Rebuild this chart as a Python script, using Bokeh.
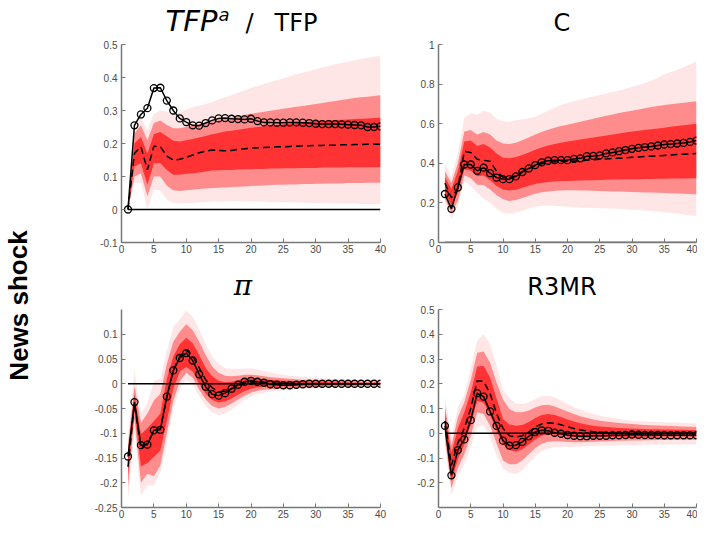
from bokeh.plotting import figure
from bokeh.models import (ColumnDataSource, Range1d, SingleIntervalTicker,
                          CustomJSTickFormatter)
from bokeh.core.properties import value
from bokeh.layouts import row, column
from bokeh.embed import file_html
from bokeh.resources import INLINE

# ---------------- data ----------------
horizon = list(range(1, 41))
zero = [0.0] * 40
row_label = "News shock"

tfp_solid = [0, 0.255, 0.288, 0.307, 0.368, 0.369, 0.330, 0.300, 0.276, 0.265, 0.255, 0.254, 0.262, 0.270, 0.276, 0.277, 0.275, 0.274, 0.273, 0.275, 0.268, 0.264, 0.264, 0.263, 0.263, 0.264, 0.264, 0.263, 0.262, 0.260, 0.259, 0.259, 0.259, 0.258, 0.257, 0.256, 0.255, 0.250, 0.250, 0.252]
tfp_median = [0, 0.170, 0.190, 0.120, 0.192, 0.190, 0.162, 0.150, 0.152, 0.158, 0.165, 0.172, 0.177, 0.180, 0.179, 0.178, 0.179, 0.182, 0.184, 0.186, 0.187, 0.188, 0.189, 0.190, 0.190, 0.191, 0.192, 0.193, 0.193, 0.194, 0.194, 0.195, 0.195, 0.196, 0.196, 0.197, 0.197, 0.198, 0.198, 0.198]
tfp_in_lo = [0, 0.130, 0.140, 0.075, 0.140, 0.140, 0.120, 0.105, 0.105, 0.108, 0.110, 0.112, 0.115, 0.118, 0.119, 0.120, 0.120, 0.121, 0.122, 0.122, 0.123, 0.123, 0.124, 0.124, 0.125, 0.125, 0.125, 0.126, 0.126, 0.126, 0.127, 0.127, 0.127, 0.127, 0.128, 0.128, 0.128, 0.128, 0.128, 0.128]
tfp_in_hi = [0, 0.200, 0.220, 0.170, 0.228, 0.235, 0.222, 0.208, 0.206, 0.210, 0.214, 0.218, 0.223, 0.228, 0.232, 0.236, 0.239, 0.242, 0.245, 0.248, 0.250, 0.252, 0.254, 0.256, 0.258, 0.260, 0.262, 0.264, 0.266, 0.268, 0.269, 0.270, 0.271, 0.272, 0.273, 0.274, 0.275, 0.276, 0.277, 0.278]
tfp_mid_lo = [0, 0.100, 0.110, 0.040, 0.100, 0.100, 0.072, 0.058, 0.056, 0.058, 0.060, 0.062, 0.064, 0.065, 0.066, 0.067, 0.068, 0.069, 0.070, 0.071, 0.072, 0.073, 0.074, 0.075, 0.075, 0.076, 0.076, 0.077, 0.077, 0.078, 0.078, 0.079, 0.079, 0.079, 0.080, 0.080, 0.080, 0.081, 0.081, 0.081]
tfp_mid_hi = [0, 0.230, 0.255, 0.210, 0.262, 0.270, 0.256, 0.246, 0.246, 0.250, 0.255, 0.259, 0.263, 0.267, 0.271, 0.275, 0.279, 0.283, 0.287, 0.290, 0.293, 0.296, 0.299, 0.302, 0.305, 0.308, 0.311, 0.314, 0.317, 0.320, 0.323, 0.326, 0.329, 0.332, 0.335, 0.338, 0.340, 0.342, 0.344, 0.346]
tfp_out_lo = [0, 0.080, 0.080, 0.002, 0.060, 0.058, 0.030, 0.020, 0.018, 0.020, 0.020, 0.022, 0.023, 0.024, 0.025, 0.025, 0.026, 0.026, 0.025, 0.025, 0.024, 0.024, 0.023, 0.023, 0.022, 0.022, 0.021, 0.021, 0.020, 0.020, 0.020, 0.019, 0.019, 0.018, 0.018, 0.018, 0.017, 0.017, 0.017, 0.016]
tfp_out_hi = [0, 0.240, 0.280, 0.240, 0.290, 0.300, 0.296, 0.292, 0.295, 0.303, 0.310, 0.315, 0.320, 0.326, 0.333, 0.340, 0.347, 0.354, 0.361, 0.368, 0.374, 0.380, 0.386, 0.392, 0.398, 0.404, 0.410, 0.415, 0.420, 0.425, 0.430, 0.435, 0.440, 0.444, 0.448, 0.452, 0.456, 0.460, 0.463, 0.466]

c_solid = [0.245, 0.170, 0.278, 0.394, 0.394, 0.362, 0.378, 0.350, 0.328, 0.320, 0.320, 0.334, 0.356, 0.374, 0.391, 0.405, 0.413, 0.416, 0.416, 0.416, 0.422, 0.425, 0.436, 0.437, 0.440, 0.450, 0.455, 0.461, 0.467, 0.473, 0.478, 0.482, 0.485, 0.490, 0.495, 0.497, 0.500, 0.503, 0.508, 0.515]
c_median = [0.300, 0.225, 0.275, 0.460, 0.455, 0.420, 0.415, 0.410, 0.360, 0.330, 0.325, 0.338, 0.358, 0.374, 0.388, 0.398, 0.405, 0.408, 0.409, 0.410, 0.412, 0.414, 0.416, 0.418, 0.420, 0.422, 0.424, 0.426, 0.428, 0.430, 0.432, 0.434, 0.436, 0.438, 0.440, 0.442, 0.444, 0.446, 0.448, 0.450]
c_in_lo = [0.250, 0.190, 0.250, 0.370, 0.362, 0.335, 0.338, 0.315, 0.285, 0.268, 0.262, 0.266, 0.276, 0.286, 0.295, 0.302, 0.306, 0.308, 0.310, 0.311, 0.312, 0.313, 0.314, 0.315, 0.316, 0.317, 0.318, 0.318, 0.319, 0.320, 0.320, 0.321, 0.321, 0.322, 0.322, 0.323, 0.323, 0.323, 0.324, 0.324]
c_in_hi = [0.330, 0.270, 0.360, 0.510, 0.515, 0.488, 0.498, 0.480, 0.450, 0.428, 0.425, 0.432, 0.442, 0.455, 0.468, 0.480, 0.490, 0.498, 0.504, 0.510, 0.515, 0.520, 0.525, 0.530, 0.535, 0.540, 0.545, 0.550, 0.555, 0.560, 0.564, 0.568, 0.572, 0.576, 0.580, 0.584, 0.588, 0.592, 0.596, 0.600]
c_mid_lo = [0.220, 0.150, 0.210, 0.340, 0.325, 0.292, 0.290, 0.268, 0.240, 0.218, 0.210, 0.215, 0.225, 0.236, 0.246, 0.254, 0.258, 0.261, 0.263, 0.264, 0.264, 0.263, 0.262, 0.261, 0.260, 0.259, 0.258, 0.257, 0.256, 0.255, 0.254, 0.253, 0.252, 0.251, 0.250, 0.249, 0.248, 0.246, 0.245, 0.243]
c_mid_hi = [0.360, 0.300, 0.400, 0.560, 0.568, 0.545, 0.558, 0.545, 0.515, 0.500, 0.498, 0.504, 0.516, 0.530, 0.545, 0.558, 0.570, 0.580, 0.588, 0.595, 0.602, 0.610, 0.618, 0.625, 0.632, 0.640, 0.647, 0.654, 0.660, 0.666, 0.672, 0.678, 0.684, 0.690, 0.694, 0.698, 0.702, 0.706, 0.710, 0.714]
c_out_lo = [0.200, 0.120, 0.180, 0.310, 0.285, 0.250, 0.222, 0.200, 0.170, 0.150, 0.145, 0.150, 0.160, 0.172, 0.182, 0.186, 0.186, 0.185, 0.183, 0.180, 0.178, 0.176, 0.175, 0.174, 0.173, 0.172, 0.171, 0.170, 0.168, 0.166, 0.164, 0.162, 0.159, 0.156, 0.153, 0.150, 0.146, 0.142, 0.138, 0.133]
c_out_hi = [0.400, 0.330, 0.450, 0.630, 0.652, 0.645, 0.665, 0.655, 0.625, 0.612, 0.610, 0.617, 0.622, 0.627, 0.635, 0.650, 0.665, 0.680, 0.695, 0.705, 0.713, 0.722, 0.730, 0.738, 0.745, 0.752, 0.760, 0.768, 0.776, 0.785, 0.795, 0.805, 0.818, 0.832, 0.848, 0.860, 0.872, 0.885, 0.900, 0.915]

pi_solid = [-0.147, -0.037, -0.124, -0.123, -0.094, -0.093, -0.026, 0.027, 0.052, 0.062, 0.047, 0.019, -0.006, -0.021, -0.024, -0.019, -0.010, -0.002, 0.004, 0.006, 0.004, 0.002, -0.001, -0.002, -0.003, -0.003, -0.002, -0.001, 0.000, 0.000, 0.000, 0.000, 0.000, 0.000, 0.000, 0.000, 0.000, 0.000, 0.000, 0.000]
pi_median = [-0.168, -0.040, -0.130, -0.120, -0.096, -0.090, -0.028, 0.028, 0.055, 0.068, 0.056, 0.032, 0.008, -0.008, -0.016, -0.015, -0.010, -0.004, 0.001, 0.003, 0.004, 0.003, 0.002, 0.001, 0.001, 0.000, 0.000, 0.000, 0.000, 0.000, 0.000, 0.000, 0.000, 0.000, 0.000, 0.000, 0.000, 0.000, 0.000, 0.000]
pi_in_lo = [-0.185, -0.055, -0.167, -0.160, -0.148, -0.135, -0.075, -0.010, 0.025, 0.034, 0.025, 0.000, -0.020, -0.033, -0.038, -0.036, -0.030, -0.022, -0.015, -0.010, -0.007, -0.006, -0.006, -0.006, -0.005, -0.005, -0.005, -0.004, -0.004, -0.004, -0.004, -0.003, -0.003, -0.003, -0.003, -0.003, -0.002, -0.002, -0.002, -0.002]
pi_in_hi = [-0.140, -0.020, -0.102, -0.090, -0.076, -0.060, 0.010, 0.055, 0.080, 0.093, 0.082, 0.058, 0.032, 0.015, 0.006, 0.003, 0.004, 0.007, 0.010, 0.011, 0.010, 0.009, 0.008, 0.007, 0.006, 0.006, 0.005, 0.005, 0.004, 0.004, 0.004, 0.003, 0.003, 0.003, 0.003, 0.002, 0.002, 0.002, 0.002, 0.002]
pi_mid_lo = [-0.210, -0.070, -0.200, -0.182, -0.187, -0.165, -0.100, -0.035, 0.005, 0.022, 0.012, -0.012, -0.032, -0.045, -0.050, -0.047, -0.040, -0.032, -0.024, -0.018, -0.014, -0.012, -0.011, -0.010, -0.009, -0.009, -0.008, -0.008, -0.007, -0.007, -0.006, -0.006, -0.006, -0.005, -0.005, -0.005, -0.004, -0.004, -0.004, -0.004]
pi_mid_hi = [-0.125, -0.005, -0.079, -0.060, -0.034, -0.020, 0.040, 0.085, 0.105, 0.120, 0.108, 0.085, 0.058, 0.035, 0.022, 0.016, 0.015, 0.016, 0.018, 0.018, 0.017, 0.015, 0.013, 0.012, 0.011, 0.010, 0.009, 0.008, 0.008, 0.007, 0.007, 0.006, 0.006, 0.005, 0.005, 0.005, 0.004, 0.004, 0.004, 0.004]
pi_out_lo = [-0.235, -0.095, -0.226, -0.205, -0.206, -0.180, -0.120, -0.050, -0.010, 0.008, -0.002, -0.025, -0.045, -0.058, -0.063, -0.060, -0.052, -0.042, -0.033, -0.026, -0.021, -0.018, -0.016, -0.014, -0.013, -0.012, -0.011, -0.010, -0.010, -0.009, -0.009, -0.008, -0.008, -0.007, -0.007, -0.007, -0.006, -0.006, -0.006, -0.006]
pi_out_hi = [-0.110, 0.028, -0.060, -0.040, 0.005, 0.010, 0.065, 0.115, 0.130, 0.148, 0.135, 0.110, 0.080, 0.055, 0.040, 0.032, 0.030, 0.030, 0.031, 0.031, 0.029, 0.026, 0.023, 0.020, 0.018, 0.016, 0.015, 0.014, 0.013, 0.012, 0.011, 0.010, 0.010, 0.009, 0.009, 0.008, 0.008, 0.007, 0.007, 0.007]

r_solid = [0.030, -0.170, -0.068, -0.025, 0.053, 0.162, 0.148, 0.088, 0.030, -0.030, -0.050, -0.048, -0.035, -0.012, 0.005, 0.012, 0.010, 0.002, -0.002, -0.007, -0.010, -0.012, -0.012, -0.010, -0.010, -0.010, -0.008, -0.008, -0.007, -0.005, -0.006, -0.007, -0.007, -0.007, -0.008, -0.008, -0.008, -0.008, -0.008, -0.008]
r_median = [0.050, -0.130, -0.040, 0.020, 0.100, 0.212, 0.210, 0.160, 0.080, 0.020, -0.010, -0.015, -0.010, 0.005, 0.025, 0.038, 0.042, 0.040, 0.034, 0.026, 0.019, 0.013, 0.009, 0.006, 0.004, 0.003, 0.002, 0.001, 0.000, 0.000, 0.000, -0.001, -0.001, -0.001, -0.001, -0.002, -0.002, -0.002, -0.002, -0.002]
r_in_lo = [0.000, -0.195, -0.105, -0.045, 0.035, 0.130, 0.123, 0.075, 0.010, -0.045, -0.068, -0.075, -0.065, -0.045, -0.025, -0.010, -0.004, -0.005, -0.009, -0.013, -0.016, -0.017, -0.017, -0.017, -0.016, -0.016, -0.015, -0.015, -0.015, -0.014, -0.014, -0.014, -0.014, -0.013, -0.013, -0.013, -0.013, -0.013, -0.013, -0.013]
r_in_hi = [0.080, -0.080, 0.020, 0.085, 0.165, 0.270, 0.272, 0.225, 0.140, 0.058, 0.035, 0.030, 0.033, 0.045, 0.062, 0.074, 0.078, 0.074, 0.066, 0.056, 0.047, 0.040, 0.034, 0.030, 0.027, 0.025, 0.023, 0.021, 0.020, 0.019, 0.018, 0.017, 0.016, 0.016, 0.015, 0.015, 0.014, 0.014, 0.013, 0.013]
r_mid_lo = [-0.020, -0.222, -0.140, -0.085, -0.010, 0.085, 0.078, 0.030, -0.040, -0.110, -0.125, -0.125, -0.110, -0.085, -0.060, -0.042, -0.034, -0.032, -0.033, -0.035, -0.036, -0.036, -0.035, -0.034, -0.033, -0.032, -0.031, -0.030, -0.030, -0.029, -0.029, -0.028, -0.028, -0.027, -0.027, -0.027, -0.026, -0.026, -0.026, -0.026]
r_mid_hi = [0.110, -0.050, 0.065, 0.125, 0.215, 0.325, 0.330, 0.285, 0.205, 0.136, 0.098, 0.085, 0.085, 0.092, 0.104, 0.113, 0.115, 0.108, 0.098, 0.088, 0.078, 0.069, 0.062, 0.056, 0.051, 0.047, 0.044, 0.041, 0.039, 0.037, 0.035, 0.033, 0.032, 0.031, 0.030, 0.029, 0.028, 0.027, 0.026, 0.026]
r_out_lo = [-0.040, -0.252, -0.175, -0.125, -0.055, 0.025, 0.032, -0.020, -0.090, -0.142, -0.160, -0.165, -0.150, -0.120, -0.092, -0.072, -0.062, -0.057, -0.056, -0.056, -0.055, -0.054, -0.053, -0.052, -0.051, -0.050, -0.049, -0.048, -0.048, -0.047, -0.047, -0.046, -0.046, -0.046, -0.045, -0.045, -0.045, -0.045, -0.045, -0.045]
r_out_hi = [0.150, -0.020, 0.105, 0.155, 0.265, 0.375, 0.400, 0.360, 0.275, 0.175, 0.140, 0.120, 0.118, 0.125, 0.138, 0.150, 0.152, 0.145, 0.132, 0.118, 0.105, 0.095, 0.086, 0.078, 0.071, 0.066, 0.062, 0.058, 0.055, 0.052, 0.050, 0.048, 0.046, 0.045, 0.044, 0.043, 0.042, 0.041, 0.040, 0.039]

# ---------------- style ----------------
OUTER = "#FFE6E6"
MIDDLE = "#FF8C8C"
INNER = "#FF3333"
AXIS = "#777777"
TICKLBL = "#4a4a4a"
FMT = CustomJSTickFormatter(code="return String(Number(tick.toFixed(3)));")


def make_panel(width, height, bl, br, bt, bb, yr, ystep, s, m, ilo, ihi, mlo, mhi, olo, ohi):
    p = figure(width=width, height=height, x_range=Range1d(0, 40), y_range=Range1d(*yr),
               output_backend="svg", toolbar_location=None, title=None,
               min_border_left=bl, min_border_right=br, min_border_top=bt, min_border_bottom=bb)
    p.grid.visible = False
    p.outline_line_color = None
    p.xaxis.ticker = SingleIntervalTicker(interval=5, num_minor_ticks=0)
    p.yaxis.ticker = SingleIntervalTicker(interval=ystep, num_minor_ticks=0)
    for ax in (p.xaxis[0], p.yaxis[0]):
        ax.formatter = FMT
        ax.axis_line_color = AXIS
        ax.axis_line_width = 1.5
        ax.major_tick_line_color = AXIS
        ax.major_tick_in = 4
        ax.major_tick_out = 0
        ax.minor_tick_line_color = None
        ax.major_label_text_font = "Liberation Sans"
        ax.major_label_text_font_size = "10px"
        ax.major_label_text_color = TICKLBL
    p.xaxis.major_label_standoff = 2
    p.yaxis.major_label_standoff = 4

    src = ColumnDataSource(dict(h=horizon, z=zero, s=s, m=m, ilo=ilo, ihi=ihi,
                                mlo=mlo, mhi=mhi, olo=olo, ohi=ohi))
    p.varea(x="h", y1="olo", y2="ohi", source=src, fill_color=OUTER)
    p.varea(x="h", y1="mlo", y2="mhi", source=src, fill_color=MIDDLE)
    p.varea(x="h", y1="ilo", y2="ihi", source=src, fill_color=INNER)
    p.line(x="h", y="z", source=src, line_color="black", line_width=1.6)
    p.line(x="h", y="m", source=src, line_color="black", line_width=1.5, line_dash="7 4")
    p.line(x="h", y="s", source=src, line_color="black", line_width=1.5)
    p.scatter(x="h", y="s", source=src, marker="circle", size=7,
              fill_color=None, line_color="black", line_width=1.3)
    return p


def blank(width, height):
    f = figure(width=width, height=height, x_range=Range1d(0, width), y_range=Range1d(0, height),
               output_backend="svg", toolbar_location=None, title=None,
               x_axis_location=None, y_axis_location=None,
               min_border=0, min_border_left=0, min_border_right=0,
               min_border_top=0, min_border_bottom=0)
    f.grid.visible = False
    f.outline_line_color = None
    return f


def txt(f, x, y, text, size, style="normal", font="DejaVu Sans", align="center",
        baseline="alphabetic", angle=0.0):
    f.text(x=[x], y=[y], text=[text], text_font=value(font), text_font_style=style,
           text_font_size=value(size), text_align=align, text_baseline=baseline,
           text_color="black", angle=angle)


p1 = make_panel(340, 222, 61, 20, 6, 18, (-0.1, 0.5), 0.1,
                tfp_solid, tfp_median, tfp_in_lo, tfp_in_hi, tfp_mid_lo, tfp_mid_hi, tfp_out_lo, tfp_out_hi)
p2 = make_panel(297, 222, 38, 1, 6, 18, (0, 1), 0.2,
                c_solid, c_median, c_in_lo, c_in_hi, c_mid_lo, c_mid_hi, c_out_lo, c_out_hi)
p3 = make_panel(340, 220, 61, 20, 7, 15, (-0.25, 0.15), 0.05,
                pi_solid, pi_median, pi_in_lo, pi_in_hi, pi_mid_lo, pi_mid_hi, pi_out_lo, pi_out_hi)
p4 = make_panel(297, 220, 38, 1, 7, 15, (-0.3, 0.5), 0.1,
                r_solid, r_median, r_in_lo, r_in_hi, r_mid_lo, r_mid_hi, r_out_lo, r_out_hi)

# title strips
t1 = blank(637, 38)
txt(t1, 157, 17.5, "TFP", "29px", style="italic", align="right")
txt(t1, 158, 24.5, "a", "18px", style="italic", align="left")
txt(t1, 189, 16, "/", "24px")
txt(t1, 214, 16, "TFP", "24px", align="left")
txt(t1, 501.5, 16, "C", "24px")

t2 = blank(637, 42)
txt(t2, 182.5, 17, "π", "28px", style="italic", font="DejaVu Serif")
txt(t2, 501.5, 16, "R3MR", "24px")

# left row label
side = blank(60, 522)
txt(side, 18, 217, row_label, "26px", style="bold", font="Liberation Sans", angle=1.5708)

layout = row(side, column(t1, row(p1, p2), t2, row(p3, p4)))

open("out.html", "w").write(file_html(layout, INLINE))
